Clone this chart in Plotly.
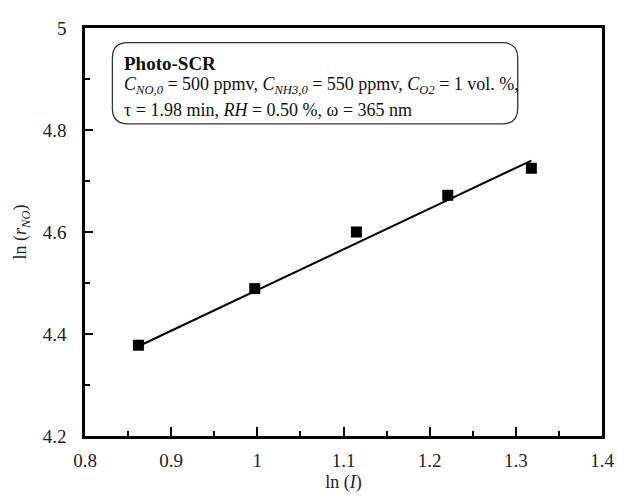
import plotly.graph_objects as go

# Data
ln_I = [0.862, 0.997, 1.115, 1.221, 1.318]
ln_rNO = [4.378, 4.489, 4.600, 4.672, 4.725]

# Fitted line endpoints (as drawn)
fit_x = [0.862, 1.318]
fit_y = [4.376, 4.740]

x_range = [0.8, 1.4]
y_range = [4.2, 5.0]

FONT = "Liberation Serif"
TXT = "#222"

fig = go.Figure()
fig.add_trace(go.Scatter(x=fit_x, y=fit_y, mode="lines",
                         line=dict(color="black", width=2), showlegend=False,
                         hoverinfo="skip"))
fig.add_trace(go.Scatter(x=ln_I, y=ln_rNO, mode="markers",
                         marker=dict(symbol="square", size=11, color="black"),
                         showlegend=False))

axis_common = dict(
    showgrid=False, zeroline=False, showline=True, linecolor="black",
    linewidth=2.5, mirror=True, ticks="inside", tickcolor="black",
    tickwidth=2, tickfont=dict(family=FONT, size=19, color=TXT),
)

fig.update_xaxes(range=x_range, dtick=0.1, tick0=0.8, ticklen=9,
                 ticklabelstandoff=5,
                 minor=dict(dtick=0.05, ticks="inside", ticklen=5,
                            tickcolor="black", tickwidth=2),
                 title=dict(text="ln (<i>I</i>)", font=dict(family=FONT, size=18, color=TXT),
                            standoff=6),
                 **axis_common)
fig.update_yaxes(range=y_range, dtick=0.2, tick0=4.2, ticklen=8,
                 ticklabelstandoff=12,
                 minor=dict(dtick=0.1, ticks="inside", ticklen=5,
                            tickcolor="black", tickwidth=2),
                 title=dict(text="ln (<i>r</i><sub><i>NO</i></sub>)",
                            font=dict(family=FONT, size=18, color=TXT), standoff=12),
                 **axis_common)

# Rounded annotation box (paper coordinates)
x0, x1, y0, y1, r = 0.053, 0.837, 0.765, 0.964, 0.03
ry = r * 527 / 422
path = (f"M {x0+r},{y1} L {x1-r},{y1} Q {x1},{y1} {x1},{y1-ry} "
        f"L {x1},{y0+ry} Q {x1},{y0} {x1-r},{y0} L {x0+r},{y0} "
        f"Q {x0},{y0} {x0},{y0+ry} L {x0},{y1-ry} Q {x0},{y1} {x0+r},{y1} Z")
fig.add_shape(type="path", path=path, xref="paper", yref="paper",
              line=dict(color="#333", width=1.3), fillcolor="white", layer="below")

lines = [
    ("<b>Photo-SCR</b>", 19),
    ("<i>C</i><sub><i>NO,0</i></sub> = 500 ppmv, <i>C</i><sub><i>NH3,0</i></sub> = 550 ppmv, "
     "<i>C</i><sub><i>O2</i></sub> = 1 vol. %,", 18),
    ("τ = 1.98 min, <i>RH</i> = 0.50 %, ω = 365 nm", 18),
]
ys = [0.912, 0.858, 0.799]
for (txt, sz), yy in zip(lines, ys):
    fig.add_annotation(text=txt, xref="paper", yref="paper", x=0.072, y=yy,
                       xanchor="left", yanchor="middle", showarrow=False,
                       font=dict(family=FONT, size=sz, color="#111"))

fig.update_layout(width=616, height=491, margin=dict(l=76, r=13, t=10, b=59),
                  paper_bgcolor="white", plot_bgcolor="white",
                  font=dict(family=FONT, color=TXT))

fig.write_html("out.html")
